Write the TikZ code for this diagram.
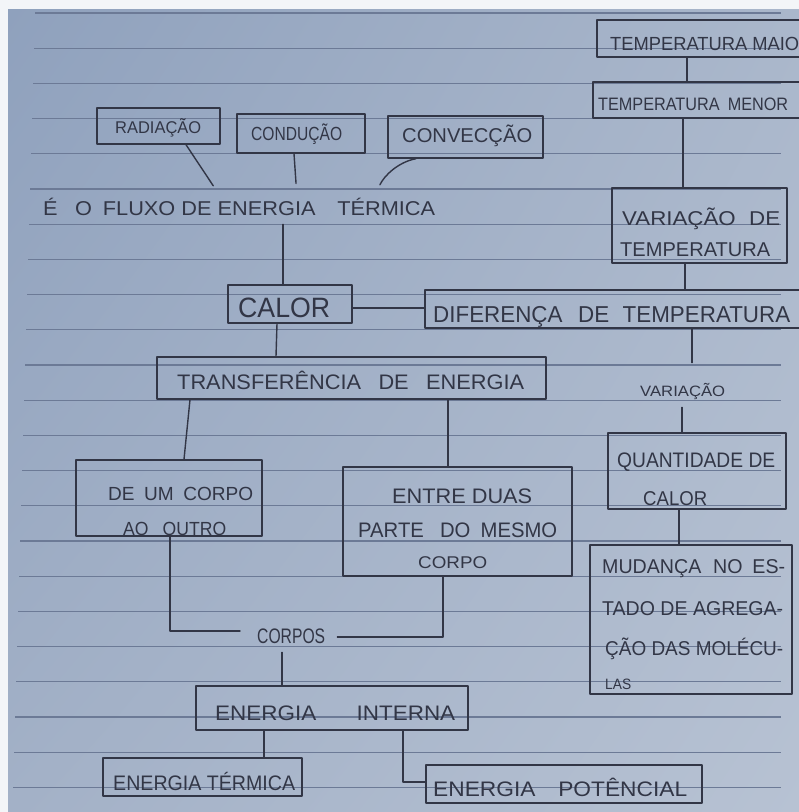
\documentclass[tikz,border=0pt]{standalone}
\usepackage{fontspec}
\setmainfont{Liberation Sans}
\usepackage{graphicx}
\usetikzlibrary{fit,shadings}

\definecolor{sheetA}{RGB}{143,161,189}
\definecolor{sheetB}{RGB}{170,183,203}
\definecolor{sheetC}{RGB}{163,177,199}
\definecolor{sheetD}{RGB}{183,194,211}
\definecolor{ruling}{RGB}{108,122,150}
\definecolor{lead}{RGB}{50,54,70}
\definecolor{edge}{RGB}{243,245,248}

% handwritten word: font size, exact width, text
\newcommand\hw[3]{\resizebox{#2pt}{\height}{\fontsize{#1}{#1}\selectfont #3}}

\begin{document}
\begin{tikzpicture}[x=1pt,y=-1pt,
  ruled/.style={draw=ruling,line width=1.1pt},
  pencil/.style={draw=lead,line width=1.4pt,line cap=round,line join=round},
  box/.style={pencil,rectangle,inner sep=0pt},
  words/.style={text=lead,inner sep=0pt,anchor=base west},
]
\useasboundingbox (0,0) rectangle (799,812);
\clip (0,0) rectangle (799,812);

% sheet of ruled paper
\fill[edge] (0,0) rectangle (799,812);
\shade[upper left=sheetA,upper right=sheetB,lower left=sheetC,lower right=sheetD]
  (8,9) rectangle (799,812);
\foreach \k in {0,...,22}
  \draw[ruled] ({35-\k},{13+35.2*\k}) -- (781,{13+35.2*\k});

% boxes
\node[box,fit={(597,20) (830,57)}]   (maior)    {};
\node[box,fit={(593,82) (830,118)}]  (menor)    {};
\node[box,fit={(612,188) (787,263)}] (vartemp)  {};
\node[box,fit={(97,108) (220,144)}]  (rad)      {};
\node[box,fit={(237,114) (365,153)}] (cond)     {};
\node[box,fit={(388,116) (543,158)}] (conv)     {};
\node[box,fit={(228,285) (352,323)}] (calor)    {};
\node[box,fit={(425,290) (830,328)}] (dif)      {};
\node[box,fit={(157,357) (546,399)}] (transf)   {};
\node[box,fit={(76,460) (262,536)}]  (umcorpo)  {};
\node[box,fit={(343,467) (572,576)}] (entre)    {};
\node[box,fit={(608,433) (786,509)}] (quant)    {};
\node[box,fit={(590,545) (792,694)}] (mudanca)  {};
\node[box,fit={(196,686) (468,730)}] (einterna) {};
\node[box,fit={(103,758) (302,796)}] (etermica) {};
\node[box,fit={(426,765) (702,803)}] (epot)     {};

% texts
\node[words] (maior-t)  at (610,50)  {\hw{19}{189}{TEMPERATURA MAIO}};
\node[words] (menor-t)  at (598,110) {\hw{18}{190}{TEMPERATURA\hspace{.5em}MENOR}};
\node[words] (var-t1)   at (622,225) {\hw{20}{158}{VARIAÇÃO\hspace{.6em}DE}};
\node[words] (var-t2)   at (620,256) {\hw{20}{150}{TEMPERATURA}};
\node[words] (rad-t)    at (115,133) {\hw{17}{86}{RADIAÇÃO}};
\node[words] (cond-t)   at (251,140) {\hw{19}{91}{CONDUÇÃO}};
\node[words] (conv-t)   at (402,142) {\hw{20}{130}{CONVECÇÃO}};
\node[words] (fluxo)    at (43,215)  {\hw{20}{392}{É\hspace{.8em}O\hspace{.5em}FLUXO DE ENERGIA\hspace{1em}TÉRMICA}};
\node[words] (calor-t)  at (238,317) {\hw{28}{92}{CALOR}};
\node[words] (dif-t)    at (433,322) {\hw{23}{357}{DIFERENÇA\hspace{.7em}DE\hspace{.6em}TEMPERATURA}};
\node[words] (transf-t) at (177,389) {\hw{21}{347}{TRANSFERÊNCIA\hspace{.8em}DE\hspace{.8em}ENERGIA}};
\node[words] (variacao) at (640,396) {\hw{15}{85}{VARIAÇÃO}};
\node[words] (um-t1)    at (108,500) {\hw{19}{145}{DE\hspace{.5em}UM\hspace{.5em}CORPO}};
\node[words] (um-t2)    at (123,535) {\hw{19}{103}{AO\hspace{.8em}OUTRO}};
\node[words] (entre-t1) at (392,503) {\hw{21}{140}{ENTRE DUAS}};
\node[words] (entre-t2) at (358,537) {\hw{21}{199}{PARTE\hspace{.8em}DO\hspace{.5em}MESMO}};
\node[words] (entre-t3) at (418,568) {\hw{17}{69}{CORPO}};
\node[words] (quant-t1) at (617,467) {\hw{21}{158}{QUANTIDADE DE}};
\node[words] (quant-t2) at (643,505) {\hw{20}{64}{CALOR}};
\node[words] (mud-t1)   at (602,573) {\hw{20}{183}{MUDANÇA\hspace{.6em}NO\hspace{.5em}ES-}};
\node[words] (mud-t2)   at (602,615) {\hw{20}{181}{TADO DE AGREGA-}};
\node[words] (mud-t3)   at (605,655) {\hw{20}{178}{ÇÃO DAS MOLÉCU-}};
\node[words] (mud-t4)   at (605,689) {\hw{15}{26}{LAS}};
\node[words] (corpos)   at (257,643) {\hw{21}{68}{CORPOS}};
\node[words] (ei-t)     at (215,720) {\hw{21}{240}{ENERGIA\hspace{1.8em}INTERNA}};
\node[words] (et-t)     at (113,790) {\hw{21}{182}{ENERGIA TÉRMICA}};
\node[words] (ep-t)     at (433,796) {\hw{21}{254}{ENERGIA\hspace{1em}POTÊNCIAL}};

% connectors
\draw[pencil] (maior.south -| 687,0) -- (menor.north -| 687,0);
\draw[pencil] (menor.south -| 683,0) -- (vartemp.north -| 683,0);
\draw[pencil] (vartemp.south -| 685,0) -- (dif.north -| 685,0);
\draw[pencil] (calor.east |- 0,308) -- (dif.west |- 0,308);
\draw[pencil,shorten <=9pt] (fluxo.south -| 283,0) -- (calor.north -| 283,0);
\draw[pencil,shorten >=14pt] (rad.south -| 186,0) -- (fluxo.north -| 221,0);
\draw[pencil,shorten >=14pt] (cond.south -| 294,0) -- (fluxo.north -| 297,0);
\draw[pencil,shorten >=14pt] (conv.south -| 416,0) .. controls (398,162) and (384,176) .. (fluxo.north -| 374,0);
\draw[pencil] (calor.south -| 277,0) -- (transf.north -| 276,0);
\draw[pencil] (transf.south -| 190,0) -- (umcorpo.north -| 184,0);
\draw[pencil] (transf.south -| 448,0) -- (entre.north -| 448,0);
\draw[pencil,shorten >=20pt] (dif.south -| 692,0) -- (variacao.north -| 692,0);
\draw[pencil,shorten <=8pt] (variacao.south -| 682,0) -- (quant.north -| 682,0);
\draw[pencil] (quant.south -| 679,0) -- (mudanca.north -| 679,0);
\draw[pencil,shorten >=17pt] (umcorpo.south -| 170,0) |- (corpos.west |- 0,631);
\draw[pencil,shorten >=12pt] (entre.south -| 443,0) |- (corpos.east |- 0,637);
\draw[pencil,shorten <=9pt] (corpos.south -| 282,0) -- (einterna.north -| 282,0);
\draw[pencil] (einterna.south -| 264,0) -- (etermica.north -| 264,0);
\draw[pencil] (einterna.south -| 403,0) |- (epot.west |- 0,782);
\end{tikzpicture}
\end{document}
